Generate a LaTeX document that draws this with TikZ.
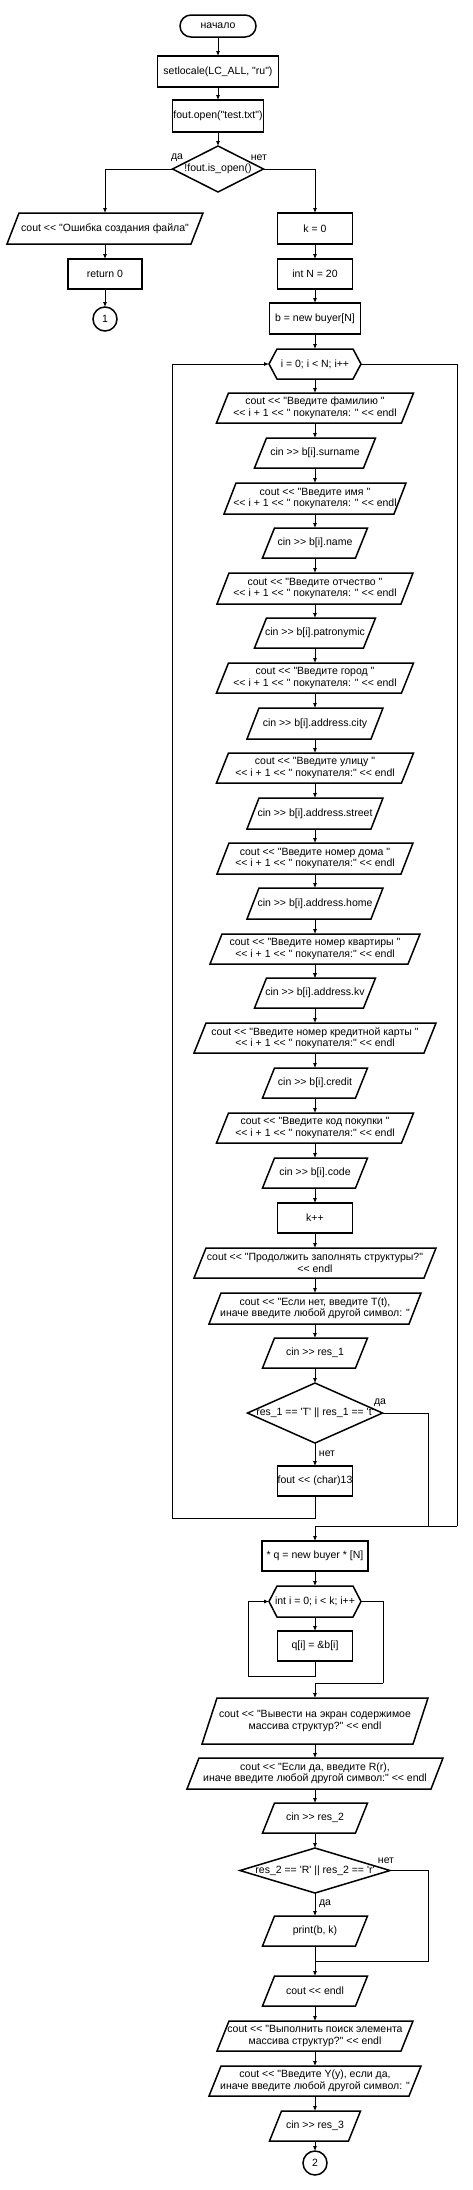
\documentclass[tikz,border=0pt]{standalone}
\usepackage{fontspec}
\newfontfamily\ff{Liberation Sans}
\usetikzlibrary{arrows.meta}
\newcommand\iobox[2][12]{\draw[shapeline] ([xshift=#1pt]#2.north west) -- (#2.north east) -- ([xshift=-#1pt]#2.south east) -- (#2.south west) -- cycle;}
\newcommand\hexbox[1]{\draw[shapeline] (#1.west) -- ([xshift=8pt]#1.north west) -- ([xshift=-8pt]#1.north east) -- (#1.east) -- ([xshift=-8pt]#1.south east) -- ([xshift=8pt]#1.south west) -- cycle;}
\newcommand\decbox[1]{\draw[shapeline] (#1.west) -- (#1.north) -- (#1.east) -- (#1.south) -- cycle;}
\begin{document}
\begin{tikzpicture}[x=1pt,y=-1pt,
  txt/.style={font=\ff\fontsize{10.5}{11.5}\selectfont, align=center, inner sep=0pt, outer sep=0pt},
  proc/.style={txt, draw, line width=1.5pt, minimum height=30pt},
  term/.style={txt, draw, line width=1.5pt, rounded corners=11pt, minimum width=76pt, minimum height=22pt},
  io/.style={txt, minimum height=30pt},
  hexa/.style={txt, minimum height=30pt},
  dec/.style={txt},
  connc/.style={circle, txt, draw, line width=1.5pt, minimum size=24pt},
  cline/.style={line width=0.8pt},
  carr/.style={cline, -{Latex[length=5pt,width=4pt]}},
  lbl/.style={txt},
  shapeline/.style={line width=1.5pt, line join=miter}
]
\useasboundingbox (0,0) rectangle (473,2190);

\node[term] (start) at (218,26) {начало};
\node[proc, minimum width=121pt, minimum height=31pt] (setl) at (218,71.5) {setlocale(LC\_ALL, "ru")};
\node[proc, minimum width=91pt, minimum height=32pt] (fopen) at (218,116) {fout.open("test.txt")};
\node[dec, minimum width=91pt, minimum height=46pt] (d1) at (218,169) {!fout.is\_open()};
\node[io, minimum width=196pt, minimum height=31pt] (err) at (105,228.5) {cout << "Ошибка создания файла"};
\node[proc, minimum width=74pt] (ret) at (105,274) {return 0};
\node[connc] (c1) at (105,319) {1};

\node[proc, minimum width=75pt, minimum height=31pt] (k0) at (315,228.5) {k = 0};
\node[proc, minimum width=75pt] (intN) at (315,274) {int N = 20};
\node[proc, minimum width=91pt, minimum height=31pt] (bnew) at (315,318.5) {b = new buyer[N]};
\node[hexa, minimum width=92pt] (for1) at (315,364) {i = 0; i < N; i++};

\node[io, minimum width=197pt] (o1) at (315,408) {cout << "Введите фамилию "\\<< i + 1 << " покупателя: " << endl};
\node[io, minimum width=121pt] (i1) at (315,453) {cin >> b[i].surname};
\node[io, minimum width=182pt, minimum height=31pt] (o2) at (315,498.5) {cout << "Введите имя "\\<< i + 1 << " покупателя: " << endl};
\node[io, minimum width=105pt] (i2) at (315,543) {cin >> b[i].name};
\node[io, minimum width=196pt, minimum height=31pt] (o3) at (315,588.5) {cout << "Введите отчество "\\<< i + 1 << " покупателя: " << endl};
\node[io, minimum width=121pt] (i3) at (315,633) {cin >> b[i].patronymic};
\node[io, minimum width=197pt] (o4) at (315,678) {cout << "Введите город "\\<< i + 1 << " покупателя: " << endl};
\node[io, minimum width=136pt, minimum height=31pt] (i4) at (315,723.5) {cin >> b[i].address.city};
\node[io, minimum width=197pt] (o5) at (315,768) {cout << "Введите улицу "\\<< i + 1 << " покупателя:" << endl};
\node[io, minimum width=136pt, minimum height=31pt] (i5) at (315,813.5) {cin >> b[i].address.street};
\node[io, minimum width=196pt, minimum height=31pt] (o6) at (315,858.5) {cout << "Введите номер дома "\\<< i + 1 << " покупателя:" << endl};
\node[io, minimum width=136pt, minimum height=31pt] (i6) at (315,903.5) {cin >> b[i].address.home};
\node[io, minimum width=210pt] (o7) at (315,949) {cout << "Введите номер квартиры "\\<< i + 1 << " покупателя:" << endl};
\node[io, minimum width=121pt] (i7) at (315,993) {cin >> b[i].address.kv};
\node[io, minimum width=242pt] (o8) at (315,1038) {cout << "Введите номер кредитной карты "\\<< i + 1 << " покупателя:" << endl};
\node[io, minimum width=105pt] (i8) at (315,1083) {cin >> b[i].credit};
\node[io, minimum width=197pt] (o9) at (315,1128) {cout << "Введите код покупки "\\<< i + 1 << " покупателя:" << endl};
\node[io, minimum width=105pt] (i9) at (315,1173) {cin >> b[i].code};
\node[proc, minimum width=75pt] (kpp) at (315,1218) {k++};
\node[io, minimum width=242pt] (o10) at (315,1263) {cout << "Продолжить заполнять структуры?"\\<< endl};
\node[io, minimum width=212pt, minimum height=31pt] (o11) at (315,1308.5) {cout << "Если нет, введите T(t),\\иначе введите любой другой символ: "};
\node[io, minimum width=105pt] (i10) at (315,1353) {cin >> res\_1};
\node[dec, minimum width=135pt, minimum height=60pt] (d2) at (315,1413) {res\_1 == 'T' || res\_1 == 't'};
\node[proc, minimum width=75pt] (fch) at (315,1481) {fout << (char)13};

\node[proc, minimum width=106pt] (q) at (315,1556) {* q = new buyer * [N]};
\node[hexa, minimum width=92pt, minimum height=31pt] (for2) at (315,1601.5) {int i = 0; i < k; i++};
\node[proc, minimum width=75pt] (qi) at (315,1646) {q[i] = \&b[i]};
\node[io, minimum width=226pt, minimum height=46pt] (o12) at (315,1721) {cout << "Вывести на экран содержимое\\массива структур?" << endl};
\node[io, minimum width=256pt, minimum height=31pt] (o13) at (315,1773.5) {cout << "Если да, введите R(r),\\иначе введите любой другой символ:" << endl};
\node[io, minimum width=105pt] (i11) at (315,1818) {cin >> res\_2};
\node[dec, minimum width=150pt, minimum height=45pt] (d3) at (315,1870.5) {res\_2 == 'R' || res\_2 == 'r'};
\node[io, minimum width=105pt] (pr) at (315,1931) {print(b, k)};
\node[io, minimum width=105pt] (endl) at (315,1991) {cout << endl};
\node[io, minimum width=196pt] (o14) at (315,2036) {cout << "Выполнить поиск элемента\\массива структур?" << endl};
\node[io, minimum width=212pt] (o15) at (315,2081) {cout << "Введите Y(y), если да,\\иначе введите любой другой символ: "};
\node[io, minimum width=91pt] (i12) at (315,2126) {cin >> res\_3};
\node[connc] (c2) at (315,2163) {2};

% outlines
\decbox{d1}\decbox{d2}\decbox{d3}
\hexbox{for1}\hexbox{for2}
\iobox{err}
\foreach \n in {o1,i1,o2,i2,o3,i3,o4,i4,o5,i5,o6,i6,o7,i7,o8,i8,o9,i9,o10,o11,i10,i11,o13,pr,endl,o14,o15,i12}{\iobox{\n}}
\iobox[15]{o12}

% labels
\node[lbl] at (177,158) {да};
\node[lbl] at (259,158) {нет};
\node[lbl] at (380,1403) {да};
\node[lbl] at (327,1454) {нет};
\node[lbl] at (386,1860.5) {нет};
\node[lbl] at (325,1903.5) {да};

% coordinates
\coordinate (lb1) at (172,1518);
\coordinate (ex1) at (457,1526);
\coordinate (ex1b) at (428,1526);
\coordinate (lb2) at (248,1676);
\coordinate (ex2) at (383,1683);
\coordinate (j3) at (428,1961);

% connectors
\foreach \a/\b in {start/setl, setl/fopen, fopen/d1, err/ret, ret/c1, k0/intN, intN/bnew, bnew/for1,
  for1/o1, o1/i1, i1/o2, o2/i2, i2/o3, o3/i3, i3/o4, o4/i4, i4/o5, o5/i5, i5/o6, o6/i6, i6/o7, o7/i7,
  o7/i7, i7/o8, o8/i8, i8/o9, o9/i9, i9/kpp, kpp/o10, o10/o11, o11/i10, i10/d2, d2/fch,
  q/for2, for2/qi, o12/o13, o13/i11, i11/d3, d3/pr, pr/endl, endl/o14, o14/o15, o15/i12, i12/c2}
  {\draw[carr] (\a) -- (\b);}
\draw[carr] (d1.west) -| (err.north);
\draw[carr] (d1.east) -| (k0.north);
\draw[carr] (fch.south) |- (lb1) |- (for1.west);
\draw[cline] (for1.east) -| (ex1);
\draw[carr] (ex1) -| (q.north);
\draw[cline] (d2.east) -| (ex1b);
\draw[carr] (qi.south) |- (lb2) |- (for2.west);
\draw[cline] (for2.east) -| (ex2);
\draw[carr] (ex2) -| (o12.north);
\draw[cline] (d3.east) -| (j3) -- (j3 -| pr.south);
\end{tikzpicture}
\end{document}
